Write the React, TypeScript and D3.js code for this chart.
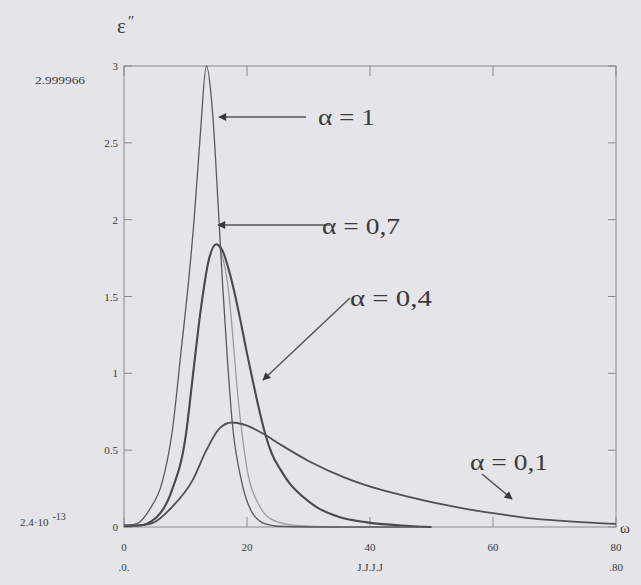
import React, { useEffect, useRef } from 'react';
import * as d3 from 'd3';

// curves, [omega, eps'']
const alpha1 = [
  [0, 0.01], [2, 0.02], [4.1, 0.11], [6.2, 0.29], [7.8, 0.61], [9.3, 1.15],
  [10.5, 1.6], [11.4, 2.0], [12.4, 2.55], [13.4, 3.0], [14.4, 2.7], [15.3, 2.1],
  [16, 1.6], [16.8, 1.1], [17.6, 0.68], [19.1, 0.3], [20.9, 0.09], [23, 0.02],
  [25, 0.005], [30, 0], [48, 0],
];
const alpha07 = [
  [0, 0.01], [2.4, 0.01], [5.2, 0.06], [7.8, 0.24], [10.1, 0.61], [11.1, 0.95],
  [12.5, 1.42], [13.8, 1.74], [15, 1.84], [16, 1.76], [16.8, 1.6], [18.8, 0.74],
  [20, 0.38], [22, 0.14], [24, 0.05], [28, 0.01], [35, 0],
];
const alpha04 = [
  [0, 0.01], [2.4, 0.01], [5.2, 0.06], [7.8, 0.24], [10.1, 0.61], [11.1, 0.95],
  [12.5, 1.42], [13.8, 1.74], [15, 1.84], [16, 1.8], [17, 1.68], [18, 1.52],
  [19, 1.33], [20, 1.13], [21, 0.94], [22, 0.76], [23, 0.6], [24, 0.48],
  [25.5, 0.37], [27, 0.28], [29, 0.2], [31.3, 0.13], [35, 0.065], [39.5, 0.03],
  [45, 0.01], [50, 0],
];
const alpha01 = [
  [0, 0.005], [2.4, 0.01], [4.6, 0.025], [7.8, 0.13], [11.1, 0.3], [13.4, 0.5],
  [15.5, 0.64], [17.5, 0.68], [20, 0.66], [22.5, 0.61], [25.3, 0.54], [30, 0.43],
  [36, 0.32], [42, 0.24], [47, 0.19], [52, 0.145], [56, 0.115], [60, 0.09],
  [66.6, 0.055], [73, 0.035], [80, 0.02],
];

const yTicks = [0, 0.5, 1, 1.5, 2, 2.5, 3];
const yTickLabels = ['0', '0.5', '1', '1.5', '2', '2.5', '3'];
const xTicks = [0, 20, 40, 60, 80];
const xTickLabels = ['0', '20', '40', '60', '80'];

const App = () => {
  const ref = useRef<SVGSVGElement>(null);

  useEffect(() => {
    const svg = d3.select(ref.current);
    svg.selectAll('*').remove();

    const x = d3.scaleLinear().domain([0, 80]).range([124, 616]);
    const y = d3.scaleLinear().domain([0, 3]).range([527, 66]);
    const font = 'Liberation Serif, Times New Roman, serif';
    const ink = '#3a3a3a';
    const frame = '#8a8a8e';

    svg.append('rect').attr('width', 641).attr('height', 585).attr('fill', '#e5e5e9');

    // frame
    const g = svg.append('g');
    g.append('rect')
      .attr('x', x(0)).attr('y', y(3))
      .attr('width', x(80) - x(0)).attr('height', y(0) - y(3))
      .attr('fill', 'none').attr('stroke', frame).attr('stroke-width', 1);

    // ticks, pointing inwards
    yTicks.forEach((t) => {
      g.append('line').attr('x1', x(0)).attr('x2', x(0) + 8).attr('y1', y(t)).attr('y2', y(t))
        .attr('stroke', frame);
      g.append('line').attr('x1', x(80)).attr('x2', x(80) - 8).attr('y1', y(t)).attr('y2', y(t))
        .attr('stroke', frame);
    });
    xTicks.forEach((t) => {
      g.append('line').attr('x1', x(t)).attr('x2', x(t)).attr('y1', y(0)).attr('y2', y(0) - 10)
        .attr('stroke', frame);
      g.append('line').attr('x1', x(t)).attr('x2', x(t)).attr('y1', y(3)).attr('y2', y(3) + 10)
        .attr('stroke', frame);
    });

    // tick labels
    g.selectAll('.ylab').data(yTicks).enter().append('text')
      .attr('x', x(0) - 6).attr('y', (d) => y(d) + 4)
      .attr('text-anchor', 'end').attr('font-size', 11).attr('font-family', font)
      .attr('fill', ink)
      .text((d, i) => yTickLabels[i]);
    g.selectAll('.xlab').data(xTicks).enter().append('text')
      .attr('x', (d) => x(d)).attr('y', y(0) + 24)
      .attr('text-anchor', 'middle').attr('font-size', 11).attr('font-family', font)
      .attr('fill', ink)
      .text((d, i) => xTickLabels[i]);

    // extra mathcad range labels
    const label = (tx: number, ty: number, s: string, size = 10, anchor = 'start') =>
      svg.append('text').attr('x', tx).attr('y', ty).attr('font-size', size)
        .attr('font-family', font).attr('fill', ink).attr('text-anchor', anchor).text(s);
    label(35, 84, '2.999966', 11).attr('textLength', 50).attr('lengthAdjust', 'spacingAndGlyphs');
    const sci = label(20, 526, '2.4·10', 11);
    sci.append('tspan').attr('dx', 4).attr('dy', -6).attr('font-size', 10).text('-13');
    label(x(0), 571, '.0.', 11, 'middle');
    label(x(40), 571, 'J.J.J.J', 11, 'middle');
    label(x(80), 571, '.80', 11, 'middle');
    label(620, 533, 'ω', 15);
    label(117, 33, 'ε', 21);
    label(128, 26, '\u2033', 15);

    // curves
    const line = d3.line<number[]>()
      .x((d) => x(d[0]))
      .y((d) => y(d[1]))
      .curve(d3.curveMonotoneX);

    const series = [
      { data: alpha07, color: '#9c9ca0', width: 1.3 },
      { data: alpha01, color: '#505052', width: 1.8 },
      { data: alpha04, color: '#4a4a4c', width: 2.1 },
      { data: alpha1, color: '#5a5a5c', width: 1.3 },
    ];
    svg.selectAll('.curve').data(series).enter().append('path')
      .attr('d', (d) => line(d.data))
      .attr('fill', 'none')
      .attr('stroke', (d) => d.color)
      .attr('stroke-width', (d) => d.width);

    // annotations
    const defs = svg.append('defs');
    defs.append('marker')
      .attr('id', 'head').attr('viewBox', '0 0 10 10').attr('refX', 9).attr('refY', 5)
      .attr('markerWidth', 10).attr('markerHeight', 8).attr('orient', 'auto')
      .attr('markerUnits', 'userSpaceOnUse')
      .append('path').attr('d', 'M0,0L10,5L0,10z').attr('fill', '#3a3a3a');

    const arrow = (x1: number, y1: number, x2: number, y2: number) =>
      svg.append('line').attr('x1', x1).attr('y1', y1).attr('x2', x2).attr('y2', y2)
        .attr('stroke', '#555').attr('stroke-width', 1.5).attr('marker-end', 'url(#head)');

    const note = (tx: number, ty: number, s: string, w: number) =>
      label(tx, ty, s, 23).attr('textLength', w).attr('lengthAdjust', 'spacingAndGlyphs');

    arrow(306, 117, 219, 117);
    note(318, 125, 'α = 1', 57);
    arrow(330, 225, 218, 225);
    note(322, 234, 'α = 0,7', 78);
    arrow(350, 298, 263, 380);
    note(350, 306, 'α = 0,4', 82);
    arrow(482, 474, 512, 499);
    note(470, 470, 'α = 0,1', 78);
  }, []);

  return (
    <svg ref={ref} width={641} height={585}
      style={{ position: 'absolute', left: 0, top: 0, display: 'block' }} />
  );
};

export default App;
